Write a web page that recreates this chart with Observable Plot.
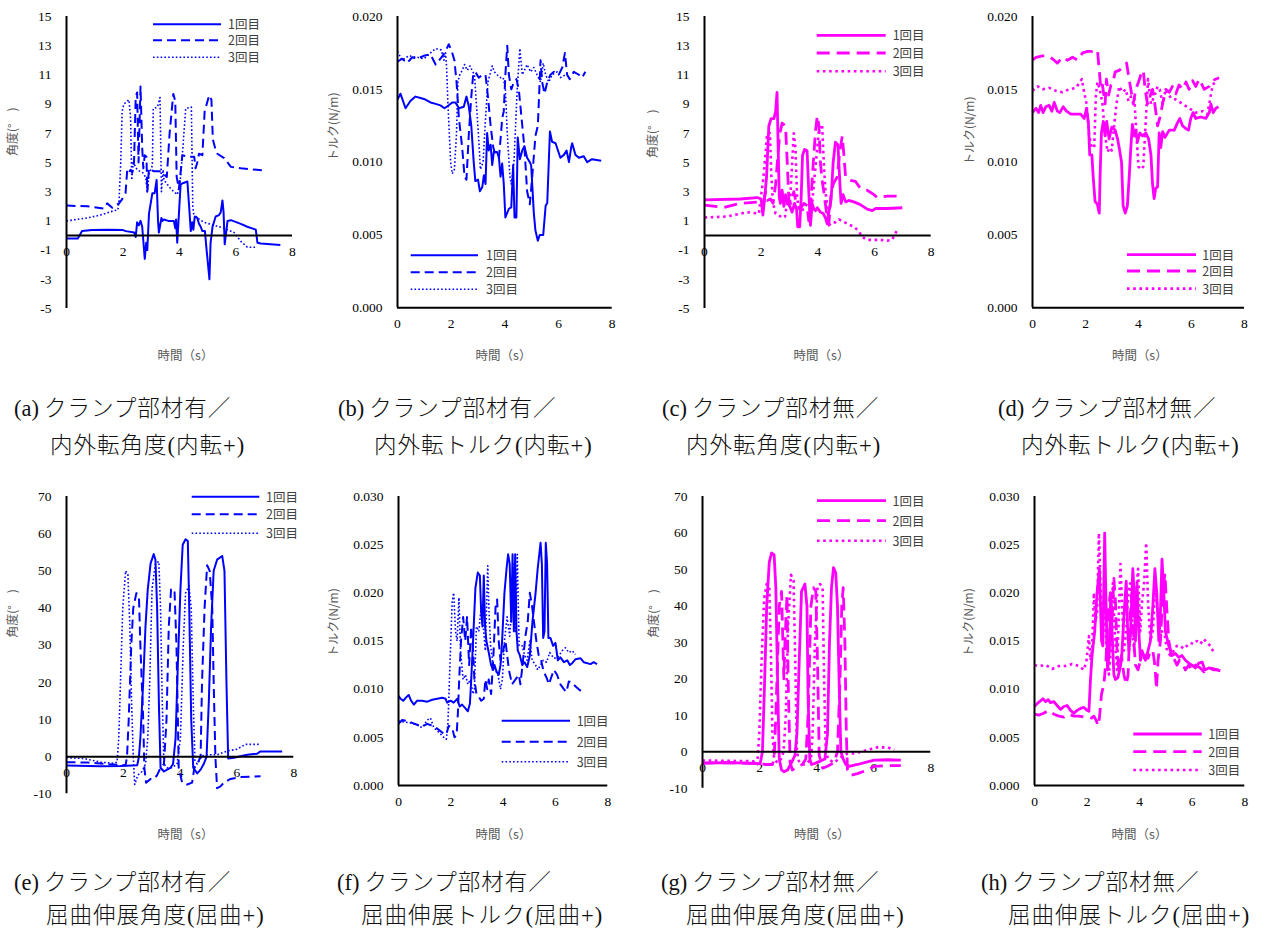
<!DOCTYPE html>
<html><head><meta charset="utf-8">
<script src="https://cdn.jsdelivr.net/npm/d3@7"></script>
<script src="https://cdn.jsdelivr.net/npm/@observablehq/plot@0.6"></script>
<style>
body{margin:0;background:#fff;overflow:hidden;}
#page{position:relative;width:1263px;height:929px;overflow:hidden;background:#fff;}
.panel{position:absolute;}
.cap{position:absolute;font-family:"Liberation Serif","Noto Sans CJK JP",serif;font-weight:300;font-size:22.5px;color:#111;white-space:nowrap;line-height:22px;letter-spacing:1px;}
.cap .tag{margin-right:5px;letter-spacing:0;}
</style></head><body><div id="page"></div>
<script>
// ---------- tick labels / categories ----------
const timeTicks = [0, 2, 4, 6, 8];
const rotAngleTicks = [-5, -3, -1, 1, 3, 5, 7, 9, 11, 13, 15];
const rotTorqueTicks = [0, 0.005, 0.010, 0.015, 0.020];
const flexAngleTicks = [-10, 0, 10, 20, 30, 40, 50, 60, 70];
const flexTorqueTicks = [0, 0.005, 0.010, 0.015, 0.020, 0.025, 0.030];
const trialLabels = ["1回目", "2回目", "3回目"];
const timeLabel = "時間（s）";
const angleLabel = "角度(°\u2003)";
const torqueLabel = "トルク(N/m)";
const captionTags = ["(a)","(b)","(c)","(d)","(e)","(f)","(g)","(h)"];
const captionLine1 = ["クランプ部材有／","クランプ部材有／","クランプ部材無／","クランプ部材無／","クランプ部材有／","クランプ部材有／","クランプ部材無／","クランプ部材無／"];
const captionLine2 = ["内外転角度(内転+)","内外転トルク(内転+)","内外転角度(内転+)","内外転トルク(内転+)","屈曲伸展角度(屈曲+)","屈曲伸展トルク(屈曲+)","屈曲伸展角度(屈曲+)","屈曲伸展トルク(屈曲+)"];

// ---------- series: [time (s), value] ----------
// (a) clamp, rotation angle
const a_run1 = [[0,-0.2],[0.4,-0.2],[0.55,0.3],[0.9,0.37],[1.5,0.4],[2.0,0.37],[2.1,0.3],[2.4,0.2],[2.45,-0.1],[2.5,0.9],[2.56,0.7],[2.62,1.0],[2.68,0.6],[2.77,-1.6],[2.82,-0.5],[2.86,-1.0],[2.92,1.5],[3.04,2.9],[3.12,2.9],[3.19,3.8],[3.24,1.0],[3.27,0.2],[3.36,1.2],[3.4,1.0],[3.45,1.1],[3.6,1.0],[3.8,1.0],[3.85,0.5],[3.88,1.1],[3.92,-0.5],[3.98,1.5],[4.04,3.5],[4.14,3.6],[4.28,3.7],[4.34,2.0],[4.4,0.3],[4.45,0.9],[4.49,0.4],[4.54,1.3],[4.63,1.2],[4.69,0.8],[4.75,0.6],[4.81,0.3],[4.9,0.3],[4.96,-1.0],[5.06,-3.0],[5.1,-0.5],[5.17,0.6],[5.28,1.3],[5.4,1.4],[5.46,1.6],[5.52,2.4],[5.56,1.6],[5.6,-0.6],[5.65,0.2],[5.7,1.0],[5.82,1.05],[6.17,0.8],[6.4,0.6],[6.7,0.4],[6.76,-0.5],[6.88,-0.55],[7.57,-0.65]];
const a_run2 = [[0,2.05],[0.73,2.0],[1.32,1.85],[1.44,2.2],[1.62,1.9],[1.86,2.2],[1.94,2.4],[2.09,2.9],[2.15,4.5],[2.21,4.3],[2.27,4.5],[2.33,4.3],[2.39,5.0],[2.45,9.5],[2.5,9.8],[2.55,5.0],[2.62,10.2],[2.68,6.0],[2.72,4.6],[2.77,5.5],[2.83,5.4],[2.86,3.0],[2.92,4.6],[2.98,4.5],[3.1,4.4],[3.3,4.4],[3.4,4.3],[3.55,4.0],[3.65,7.0],[3.78,9.7],[3.85,9.2],[3.9,4.0],[3.98,3.2],[4.1,5.5],[4.28,5.4],[4.52,5.4],[4.57,4.6],[4.63,5.0],[4.69,5.6],[4.81,5.5],[4.89,8.5],[5.05,9.6],[5.13,9.3],[5.18,6.6],[5.26,6.0],[5.34,5.6],[5.58,5.3],[5.82,4.7],[6.17,4.6],[7.0,4.45]];
const a_run3 = [[0,1.0],[0.73,1.2],[1.2,1.4],[1.68,1.7],[1.82,1.75],[1.86,2.4],[1.92,5.0],[1.97,8.5],[2.03,9.0],[2.21,9.3],[2.27,8.0],[2.31,3.8],[2.36,5.0],[2.42,4.8],[2.5,4.5],[2.7,4.3],[2.8,4.0],[2.86,3.0],[2.92,4.2],[3.04,4.8],[3.07,8.7],[3.22,8.8],[3.31,9.45],[3.36,3.0],[3.42,4.5],[3.45,3.8],[3.57,3.5],[3.69,3.2],[3.8,3.0],[3.92,2.8],[4.02,3.6],[4.1,5.5],[4.22,8.7],[4.42,8.8],[4.47,2.0],[4.5,1.5],[4.63,1.2],[4.87,0.9],[5.22,0.7],[5.58,0.5],[5.93,0.2],[6.17,-0.4],[6.4,-0.8],[6.7,-0.8]];
// (b) clamp, rotation torque
const b_run1 = [[0,0.0143],[0.11,0.0147],[0.3,0.0137],[0.48,0.0142],[0.67,0.0145],[0.86,0.0144],[1.04,0.0143],[1.23,0.0141],[1.42,0.0140],[1.6,0.0139],[1.75,0.0137],[1.91,0.0139],[2.04,0.0141],[2.16,0.0141],[2.29,0.0137],[2.47,0.0138],[2.57,0.0145],[2.66,0.0138],[2.75,0.0125],[2.84,0.0100],[2.9,0.0087],[3.0,0.0088],[3.07,0.0080],[3.16,0.0083],[3.22,0.0091],[3.28,0.0085],[3.34,0.0120],[3.4,0.0108],[3.47,0.0112],[3.53,0.0098],[3.59,0.0107],[3.71,0.0107],[3.78,0.0103],[3.84,0.0090],[3.9,0.0099],[3.96,0.0085],[4.02,0.0062],[4.15,0.0068],[4.24,0.0069],[4.31,0.0098],[4.36,0.0062],[4.43,0.0062],[4.48,0.0117],[4.56,0.0102],[4.65,0.0108],[4.73,0.0111],[4.83,0.0103],[4.93,0.0100],[4.98,0.0098],[5.08,0.0065],[5.14,0.0053],[5.23,0.0046],[5.3,0.0050],[5.43,0.0050],[5.52,0.0070],[5.58,0.0072],[5.68,0.0121],[5.76,0.0114],[5.89,0.0113],[5.98,0.0108],[6.07,0.0103],[6.2,0.0105],[6.3,0.0108],[6.39,0.0100],[6.47,0.0110],[6.51,0.0113],[6.63,0.0105],[6.76,0.0103],[6.94,0.0104],[7.07,0.0100],[7.25,0.0102],[7.59,0.0101]];
const b_run2 = [[0,0.0169],[0.17,0.0171],[0.36,0.0168],[0.55,0.0172],[0.73,0.0171],[0.98,0.0173],[1.23,0.0174],[1.42,0.0167],[1.6,0.0171],[1.79,0.0176],[1.91,0.0181],[2.04,0.0175],[2.12,0.0170],[2.2,0.0155],[2.29,0.0130],[2.41,0.0110],[2.5,0.0090],[2.57,0.0088],[2.66,0.0120],[2.75,0.0145],[2.82,0.0160],[2.9,0.0162],[3.03,0.0158],[3.16,0.0160],[3.28,0.0160],[3.37,0.0145],[3.47,0.0125],[3.57,0.0110],[3.65,0.0105],[3.78,0.0103],[3.86,0.0120],[3.9,0.0130],[3.96,0.0135],[4.02,0.0160],[4.09,0.0180],[4.15,0.0160],[4.24,0.0150],[4.34,0.0155],[4.43,0.0157],[4.52,0.0150],[4.65,0.0125],[4.73,0.0110],[4.83,0.0080],[4.93,0.0071],[5.02,0.0090],[5.14,0.0118],[5.23,0.0125],[5.33,0.0170],[5.39,0.0155],[5.48,0.0147],[5.58,0.0155],[5.7,0.0160],[5.83,0.0162],[6.01,0.0160],[6.14,0.0165],[6.24,0.0175],[6.32,0.0160],[6.42,0.0157],[6.57,0.0162],[6.76,0.0160],[6.88,0.0158],[7.0,0.0162]];
const b_run3 = [[0,0.0176],[0.17,0.0170],[0.42,0.0173],[0.73,0.0172],[0.98,0.0171],[1.23,0.0175],[1.42,0.0178],[1.63,0.0177],[1.73,0.0170],[1.79,0.0175],[1.83,0.0165],[1.88,0.0140],[1.98,0.0100],[2.04,0.0092],[2.12,0.0095],[2.2,0.0120],[2.25,0.0155],[2.32,0.0160],[2.41,0.0163],[2.5,0.0167],[2.6,0.0163],[2.7,0.0166],[2.78,0.0163],[2.87,0.0160],[2.94,0.0140],[3.03,0.0115],[3.09,0.0095],[3.19,0.0100],[3.28,0.0130],[3.37,0.0155],[3.47,0.0162],[3.53,0.0166],[3.61,0.0162],[3.71,0.0160],[3.84,0.0158],[3.94,0.0158],[4.02,0.0150],[4.09,0.0120],[4.19,0.0090],[4.24,0.0085],[4.34,0.0100],[4.46,0.0150],[4.56,0.0178],[4.65,0.0160],[4.73,0.0163],[4.83,0.0167],[4.96,0.0162],[5.08,0.0165],[5.2,0.0160],[5.33,0.0155],[5.43,0.0168],[5.52,0.0160],[5.64,0.0155],[5.76,0.0160],[5.95,0.0162],[6.07,0.0158],[6.26,0.0160]];
// (c) no clamp, rotation angle
const c_run1 = [[0,2.44],[1.27,2.5],[1.86,2.6],[2.0,2.5],[2.06,1.4],[2.12,2.5],[2.19,4.0],[2.27,7.5],[2.35,8.0],[2.45,8.0],[2.51,8.5],[2.56,9.8],[2.6,6.0],[2.64,2.6],[2.68,2.2],[2.74,3.1],[2.8,2.0],[2.86,2.8],[2.92,2.3],[3.01,2.0],[3.09,1.6],[3.18,2.2],[3.25,1.8],[3.29,0.6],[3.36,0.6],[3.41,2.5],[3.46,5.5],[3.53,5.9],[3.62,5.8],[3.68,3.0],[3.74,0.7],[3.8,2.2],[3.86,1.8],[3.92,1.7],[3.98,1.9],[4.09,1.6],[4.19,1.5],[4.27,1.2],[4.33,0.8],[4.39,1.6],[4.47,2.5],[4.54,5.0],[4.62,6.4],[4.71,6.2],[4.78,3.5],[4.82,2.2],[4.89,2.8],[4.98,2.3],[5.09,2.4],[5.27,2.3],[5.51,2.1],[5.74,1.8],[5.92,1.7],[6.04,1.85],[6.45,1.85],[6.98,1.9]];
const c_run2 = [[0,2.08],[0.68,1.92],[1.27,2.2],[1.92,2.3],[2.0,2.2],[2.09,2.3],[2.15,3.0],[2.21,2.4],[2.33,2.5],[2.42,2.2],[2.51,3.5],[2.59,5.5],[2.66,7.0],[2.74,7.7],[2.86,7.5],[2.92,5.0],[2.98,2.3],[3.06,2.2],[3.15,3.0],[3.21,2.5],[3.36,1.8],[3.51,2.2],[3.62,2.0],[3.68,1.0],[3.76,2.5],[3.84,5.0],[3.92,7.2],[3.98,8.2],[4.04,7.5],[4.09,5.0],[4.15,3.8],[4.21,3.0],[4.31,1.5],[4.39,0.8],[4.47,3.0],[4.56,3.6],[4.68,4.0],[4.78,5.8],[4.86,6.8],[4.92,5.5],[4.98,4.0],[5.09,3.8],[5.33,3.7],[5.51,3.2],[5.74,3.1],[5.98,2.8],[6.09,2.6],[6.45,2.7],[6.86,2.7]];
const c_run3 = [[0,1.23],[0.8,1.3],[1.27,1.5],[1.5,1.6],[1.92,1.5],[1.98,2.5],[2.07,3.8],[2.15,5.5],[2.21,7.0],[2.31,7.0],[2.36,4.0],[2.42,2.2],[2.51,1.5],[2.62,1.4],[2.74,1.2],[2.84,1.3],[2.92,2.3],[3.01,2.0],[3.09,4.8],[3.15,7.0],[3.21,6.0],[3.27,2.5],[3.36,1.7],[3.51,1.8],[3.62,2.2],[3.74,2.0],[3.8,2.2],[3.86,3.5],[3.98,6.0],[4.06,7.5],[4.15,7.6],[4.21,5.0],[4.27,3.0],[4.33,2.0],[4.39,0.7],[4.51,0.9],[4.62,0.9],[4.74,1.1],[4.86,1.0],[5.04,0.8],[5.27,0.6],[5.45,0.3],[5.56,-0.1],[5.74,-0.3],[5.98,-0.3],[6.21,-0.3],[6.45,-0.35],[6.62,-0.3],[6.78,0.3]];
// (d) no clamp, rotation torque
const d_run1 = [[0,0.0134],[0.13,0.0137],[0.23,0.0134],[0.31,0.0139],[0.4,0.0134],[0.5,0.0138],[0.63,0.0139],[0.73,0.0135],[0.82,0.0141],[0.94,0.0135],[1.03,0.0134],[1.16,0.0138],[1.28,0.0135],[1.45,0.0133],[1.64,0.0133],[1.82,0.0133],[1.95,0.0130],[2.04,0.0137],[2.11,0.0127],[2.16,0.0105],[2.24,0.0105],[2.29,0.0090],[2.36,0.0073],[2.45,0.0071],[2.52,0.0065],[2.55,0.0090],[2.6,0.0120],[2.67,0.0128],[2.74,0.0118],[2.8,0.0128],[2.89,0.0116],[2.99,0.0124],[3.12,0.0122],[3.21,0.0116],[3.27,0.0110],[3.36,0.0100],[3.42,0.0070],[3.5,0.0065],[3.58,0.0070],[3.65,0.0090],[3.71,0.0110],[3.77,0.0126],[3.84,0.0118],[3.9,0.0122],[3.96,0.0114],[4.05,0.0120],[4.15,0.0118],[4.28,0.0120],[4.38,0.0116],[4.47,0.0105],[4.53,0.0085],[4.59,0.0075],[4.65,0.0082],[4.72,0.0083],[4.78,0.0120],[4.84,0.0110],[4.91,0.0121],[5.0,0.0117],[5.16,0.0122],[5.35,0.0122],[5.47,0.0127],[5.56,0.0130],[5.66,0.0125],[5.79,0.0123],[5.89,0.0122],[5.97,0.0130],[6.06,0.0134],[6.16,0.0130],[6.35,0.0131],[6.54,0.0130],[6.67,0.0134],[6.73,0.0140],[6.82,0.0134],[6.92,0.0137],[7.02,0.0138]];
const d_run2 = [[0,0.0170],[0.13,0.0172],[0.38,0.0173],[0.57,0.0173],[0.75,0.0171],[0.94,0.0168],[1.13,0.0172],[1.32,0.0170],[1.51,0.0172],[1.7,0.0170],[1.89,0.0175],[2.08,0.0176],[2.26,0.0176],[2.45,0.0177],[2.52,0.0163],[2.58,0.0150],[2.64,0.0153],[2.74,0.0140],[2.79,0.0157],[2.87,0.0146],[2.96,0.0153],[3.04,0.0155],[3.12,0.0162],[3.27,0.0163],[3.4,0.0165],[3.55,0.0168],[3.62,0.0160],[3.71,0.0150],[3.8,0.0140],[3.9,0.0150],[4.0,0.0155],[4.09,0.0160],[4.18,0.0163],[4.25,0.0150],[4.34,0.0140],[4.43,0.0145],[4.53,0.0150],[4.63,0.0138],[4.72,0.0125],[4.8,0.0130],[4.91,0.0140],[5.03,0.0150],[5.16,0.0148],[5.28,0.0152],[5.41,0.0147],[5.53,0.0153],[5.66,0.0150],[5.79,0.0155],[5.91,0.0150],[6.04,0.0156],[6.16,0.0152],[6.29,0.0157],[6.48,0.0150],[6.67,0.0152],[6.79,0.0156],[7.04,0.0158]];
const d_run3 = [[0,0.0149],[0.19,0.0152],[0.38,0.0150],[0.63,0.0151],[0.88,0.0149],[1.13,0.0148],[1.38,0.0150],[1.64,0.0151],[1.86,0.0157],[1.95,0.0148],[2.04,0.0140],[2.14,0.0118],[2.24,0.0110],[2.33,0.0110],[2.39,0.0145],[2.45,0.0155],[2.54,0.0150],[2.64,0.0140],[2.73,0.0120],[2.83,0.0107],[2.92,0.0110],[2.99,0.0108],[3.08,0.0125],[3.17,0.0140],[3.27,0.0152],[3.4,0.0148],[3.52,0.0150],[3.62,0.0142],[3.71,0.0145],[3.84,0.0145],[3.92,0.0120],[4.0,0.0097],[4.09,0.0095],[4.18,0.0097],[4.28,0.0130],[4.36,0.0157],[4.47,0.0140],[4.59,0.0145],[4.72,0.0152],[4.8,0.0150],[4.91,0.0140],[5.03,0.0150],[5.22,0.0144],[5.41,0.0143],[5.66,0.0140],[5.91,0.0137],[6.16,0.0134],[6.42,0.0135],[6.6,0.0133],[6.79,0.0152],[6.92,0.0157]];
// (e) clamp, flexion angle
const e_run1 = [[0,-2.4],[1.2,-2.6],[1.9,-2.5],[2.49,-2.3],[2.55,0],[2.6,5],[2.7,20],[2.78,35],[2.86,45],[2.96,52],[3.07,54.5],[3.13,53],[3.19,40],[3.25,15],[3.31,-3],[3.43,-4],[3.54,-3.5],[3.66,-3],[3.75,-2],[3.84,5],[3.92,25],[4.01,45],[4.09,57],[4.19,58.5],[4.27,58],[4.32,40],[4.39,10],[4.46,-3],[4.6,-4.5],[4.72,-3.5],[4.83,-2],[4.93,0],[5.01,15],[5.09,35],[5.18,50],[5.3,53],[5.48,54],[5.56,50],[5.63,20],[5.69,-0.5],[5.89,-0.3],[6.36,0.5],[6.71,0.8],[6.83,1.4],[7.59,1.4]];
const e_run2 = [[0,-1.5],[0.73,-1.6],[1.43,-2.0],[1.9,-2.2],[2.08,-2.3],[2.13,0],[2.19,10],[2.28,30],[2.35,40],[2.46,44],[2.55,43],[2.6,30],[2.7,10],[2.74,-3],[2.8,-7],[2.96,-6],[3.07,-6],[3.19,-5],[3.31,-3],[3.43,-2],[3.52,10],[3.6,35],[3.68,45],[3.8,45],[3.87,30],[3.92,10],[3.95,-3],[4.07,-7],[4.25,-7.5],[4.42,-7],[4.5,-3],[4.6,-2],[4.72,0],[4.77,20],[4.86,40],[4.95,51.5],[5.04,50],[5.13,40],[5.18,20],[5.24,0],[5.3,-8.5],[5.42,-8],[5.54,-7],[5.77,-6],[6.12,-5.5],[6.83,-5.3]];
const e_run3 = [[0,-0.3],[0.61,-0.5],[1.2,-1.5],[1.67,-1.8],[1.78,-1.5],[1.84,5],[1.9,20],[1.98,40],[2.08,50],[2.16,49],[2.23,35],[2.29,15],[2.35,0],[2.4,-7.5],[2.51,-5],[2.66,-4],[2.78,-2],[2.86,5],[2.93,20],[3.01,45],[3.13,52],[3.25,52.5],[3.31,40],[3.37,15],[3.43,-2],[3.54,-3],[3.72,-3],[3.89,-2],[4.01,5],[4.11,30],[4.19,44],[4.31,46],[4.39,40],[4.46,15],[4.52,-1],[4.6,-2],[4.77,0.2],[4.95,0.5],[5.3,0.5],[5.65,1.5],[6.0,2],[6.3,3.3],[6.77,3.3]];
// (f) clamp, flexion torque
const f_run1 = [[0,0.0093],[0.08,0.0090],[0.18,0.0088],[0.31,0.0092],[0.39,0.0094],[0.48,0.0088],[0.59,0.0084],[0.71,0.0088],[0.9,0.0088],[1.1,0.0087],[1.29,0.0089],[1.48,0.0090],[1.67,0.0091],[1.8,0.0090],[1.86,0.0086],[1.99,0.0088],[2.11,0.0086],[2.24,0.0090],[2.34,0.0082],[2.43,0.0084],[2.56,0.0080],[2.65,0.0077],[2.73,0.0085],[2.78,0.0110],[2.85,0.0150],[2.94,0.0205],[3.03,0.0221],[3.11,0.0218],[3.16,0.0180],[3.21,0.0165],[3.26,0.0218],[3.31,0.0165],[3.36,0.0150],[3.45,0.0138],[3.54,0.0125],[3.62,0.0120],[3.67,0.0125],[3.75,0.0118],[3.83,0.0115],[3.9,0.0125],[3.96,0.0150],[4.05,0.0200],[4.13,0.0225],[4.19,0.0240],[4.25,0.0230],[4.31,0.0170],[4.36,0.0240],[4.41,0.0160],[4.46,0.0240],[4.51,0.0160],[4.56,0.0140],[4.64,0.0135],[4.73,0.0125],[4.82,0.0128],[4.92,0.0123],[5.02,0.0135],[5.12,0.0170],[5.24,0.0200],[5.32,0.0225],[5.43,0.0252],[5.48,0.0230],[5.53,0.0153],[5.58,0.0160],[5.63,0.0252],[5.68,0.0230],[5.73,0.0153],[5.81,0.0153],[5.91,0.0145],[6.0,0.0148],[6.09,0.0130],[6.19,0.0133],[6.32,0.0128],[6.45,0.0130],[6.55,0.0125],[6.64,0.0127],[6.76,0.0131],[6.96,0.0132],[7.08,0.0128],[7.34,0.0126],[7.46,0.0128],[7.59,0.0126]];
const f_run2 = [[0,0.0064],[0.14,0.0068],[0.33,0.0067],[0.52,0.0065],[0.71,0.0063],[0.9,0.0061],[1.1,0.0064],[1.29,0.0062],[1.48,0.0059],[1.67,0.0055],[1.83,0.0053],[1.92,0.0062],[2.05,0.0060],[2.14,0.0050],[2.22,0.0052],[2.27,0.0075],[2.32,0.0110],[2.39,0.0150],[2.47,0.0175],[2.55,0.0150],[2.62,0.0175],[2.7,0.0125],[2.78,0.0165],[2.85,0.0140],[2.9,0.0110],[2.98,0.0095],[3.07,0.0092],[3.16,0.0088],[3.26,0.0090],[3.32,0.0110],[3.39,0.0100],[3.45,0.0110],[3.54,0.0095],[3.62,0.0130],[3.71,0.0185],[3.77,0.0193],[3.83,0.0150],[3.9,0.0130],[4.0,0.0140],[4.09,0.0150],[4.22,0.0120],[4.34,0.0105],[4.47,0.0110],[4.6,0.0115],[4.66,0.0105],[4.76,0.0130],[4.85,0.0155],[4.94,0.0170],[5.02,0.0200],[5.11,0.0185],[5.2,0.0165],[5.27,0.0150],[5.36,0.0135],[5.45,0.0130],[5.55,0.0118],[5.66,0.0112],[5.75,0.0105],[5.81,0.0110],[5.94,0.0120],[6.06,0.0115],[6.19,0.0105],[6.32,0.0100],[6.42,0.0097],[6.51,0.0108],[6.64,0.0107],[6.76,0.0103],[6.89,0.0100],[6.98,0.0098]];
const f_run3 = [[0,0.0067],[0.2,0.0066],[0.46,0.0065],[0.71,0.0063],[0.9,0.0060],[1.1,0.0068],[1.22,0.0070],[1.35,0.0060],[1.55,0.0055],[1.73,0.0050],[1.83,0.0048],[1.89,0.0065],[1.96,0.0120],[2.05,0.0190],[2.11,0.0200],[2.18,0.0160],[2.24,0.0150],[2.31,0.0195],[2.37,0.0140],[2.47,0.0110],[2.56,0.0115],[2.65,0.0105],[2.75,0.0110],[2.85,0.0095],[2.9,0.0100],[2.98,0.0165],[3.07,0.0160],[3.16,0.0185],[3.24,0.0165],[3.32,0.0140],[3.41,0.0228],[3.46,0.0180],[3.52,0.0145],[3.62,0.0125],[3.71,0.0120],[3.8,0.0115],[3.9,0.0100],[3.97,0.0110],[4.05,0.0150],[4.15,0.0175],[4.25,0.0155],[4.34,0.0190],[4.41,0.0230],[4.48,0.0160],[4.54,0.0240],[4.61,0.0145],[4.73,0.0145],[4.82,0.0135],[4.92,0.0130],[5.02,0.0150],[5.11,0.0130],[5.24,0.0125],[5.32,0.0120],[5.43,0.0125],[5.53,0.0130],[5.66,0.0128],[5.78,0.0138],[5.94,0.0132],[6.09,0.0133],[6.26,0.0140],[6.38,0.0143],[6.51,0.0138],[6.64,0.0140],[6.76,0.0136]];
// (g) no clamp, flexion angle
const g_run1 = [[0,-3.1],[0.88,-3.0],[1.81,-3.2],[2.02,-3.3],[2.1,0],[2.18,20],[2.25,40],[2.34,52],[2.42,54.5],[2.51,54],[2.57,45],[2.63,20],[2.69,-2],[2.77,-5],[2.86,-5.5],[2.98,-5],[3.12,-3],[3.24,-1],[3.31,5],[3.39,25],[3.47,44],[3.59,46],[3.66,40],[3.7,15],[3.76,-2],[3.82,-3.5],[3.94,-3.2],[4.15,-2.5],[4.29,-2],[4.38,5],[4.45,30],[4.52,45],[4.59,50.5],[4.67,49],[4.73,40],[4.8,15],[4.85,0],[4.93,-2],[5.02,-3.5],[5.14,-4],[5.43,-3.5],[5.78,-2.8],[6.02,-2.3],[6.48,-2.2],[6.95,-2.3]];
const g_run2 = [[0,-3.1],[0.88,-3.0],[1.81,-3.2],[2.22,-3.5],[2.45,-3.5],[2.51,-2],[2.57,10],[2.69,40],[2.77,44],[2.85,20],[2.89,30],[2.96,43],[3.0,20],[3.07,-3],[3.15,-5],[3.33,-4],[3.5,-3.5],[3.62,-2],[3.7,10],[3.8,40],[3.89,45],[3.97,44],[4.03,25],[4.09,-1],[4.21,-4.5],[4.38,-4],[4.61,-3],[4.73,0],[4.82,20],[4.88,40],[4.93,45],[4.99,30],[5.04,5],[5.08,-5],[5.18,-6.5],[5.43,-6],[5.78,-5],[6.02,-4],[6.48,-3.8],[6.95,-3.8]];
const g_run3 = [[0,-2.4],[0.88,-2.5],[1.81,-2.6],[1.93,-2.0],[1.99,5],[2.07,25],[2.16,42],[2.25,46],[2.34,45],[2.39,30],[2.45,5],[2.51,-2],[2.63,-3],[2.75,-2],[2.84,0],[2.92,10],[3.0,35],[3.1,48.5],[3.19,47],[3.25,25],[3.31,0],[3.39,-3],[3.56,-3.5],[3.68,-3],[3.8,-2],[3.86,5],[3.94,30],[4.03,45],[4.12,46],[4.21,45],[4.26,20],[4.32,0],[4.4,-2],[4.61,-3],[4.85,-1.5],[5.08,-0.5],[5.32,-0.5],[5.55,0],[5.78,0.5],[6.13,1.2],[6.48,1.2],[6.72,0.5]];
// (h) no clamp, flexion torque
const h_run1 = [[0,0.0082],[0.1,0.0085],[0.23,0.0088],[0.32,0.0090],[0.42,0.0087],[0.52,0.0089],[0.61,0.0086],[0.74,0.0087],[0.86,0.0083],[0.99,0.0079],[1.12,0.0082],[1.24,0.0083],[1.37,0.0078],[1.5,0.0075],[1.62,0.0078],[1.75,0.0080],[1.88,0.0081],[2.0,0.0078],[2.07,0.0077],[2.13,0.0110],[2.19,0.0135],[2.29,0.0160],[2.38,0.0200],[2.47,0.0225],[2.55,0.0150],[2.6,0.0145],[2.67,0.0262],[2.72,0.0190],[2.78,0.0120],[2.85,0.0140],[2.9,0.0200],[2.95,0.0160],[3.02,0.0115],[3.08,0.0110],[3.17,0.0112],[3.24,0.0120],[3.31,0.0130],[3.4,0.0175],[3.49,0.0212],[3.54,0.0165],[3.59,0.0140],[3.65,0.0155],[3.74,0.0225],[3.79,0.0200],[3.84,0.0150],[3.9,0.0210],[3.97,0.0160],[4.03,0.0130],[4.09,0.0140],[4.16,0.0135],[4.22,0.0130],[4.32,0.0140],[4.41,0.0150],[4.5,0.0185],[4.58,0.0225],[4.65,0.0200],[4.73,0.0150],[4.79,0.0180],[4.85,0.0235],[4.92,0.0200],[4.98,0.0160],[5.11,0.0145],[5.23,0.0135],[5.36,0.0137],[5.49,0.0133],[5.61,0.0135],[5.74,0.0130],[5.87,0.0127],[5.99,0.0125],[6.12,0.0122],[6.25,0.0127],[6.38,0.0128],[6.48,0.0120],[6.63,0.0122],[6.82,0.0121],[6.95,0.0120],[7.07,0.0119]];
const h_run2 = [[0,0.0074],[0.16,0.0073],[0.35,0.0075],[0.54,0.0078],[0.74,0.0074],[0.93,0.0072],[1.12,0.0071],[1.31,0.0074],[1.5,0.0072],[1.69,0.0072],[1.88,0.0071],[2.07,0.0071],[2.17,0.0070],[2.26,0.0072],[2.34,0.0068],[2.42,0.0062],[2.47,0.0070],[2.55,0.0095],[2.64,0.0105],[2.72,0.0130],[2.8,0.0180],[2.89,0.0200],[2.95,0.0170],[3.02,0.0215],[3.08,0.0190],[3.14,0.0140],[3.21,0.0120],[3.31,0.0135],[3.4,0.0115],[3.49,0.0105],[3.56,0.0115],[3.65,0.0180],[3.71,0.0200],[3.78,0.0150],[3.84,0.0125],[3.94,0.0120],[4.03,0.0130],[4.12,0.0130],[4.22,0.0135],[4.32,0.0132],[4.41,0.0140],[4.5,0.0140],[4.58,0.0125],[4.64,0.0100],[4.7,0.0130],[4.79,0.0150],[4.88,0.0200],[4.96,0.0220],[5.03,0.0185],[5.11,0.0150],[5.21,0.0135],[5.3,0.0132],[5.42,0.0125],[5.51,0.0130],[5.61,0.0128],[5.74,0.0120],[5.87,0.0125],[5.99,0.0120],[6.12,0.0125],[6.31,0.0122],[6.44,0.0118],[6.63,0.0122],[6.82,0.0120],[7.01,0.0120]];
const h_run3 = [[0,0.0125],[0.16,0.0124],[0.42,0.0125],[0.67,0.0121],[0.93,0.0124],[1.18,0.0124],[1.43,0.0126],[1.69,0.0124],[1.88,0.0120],[1.98,0.0130],[2.07,0.0155],[2.13,0.0130],[2.19,0.0140],[2.26,0.0200],[2.32,0.0170],[2.38,0.0180],[2.45,0.0262],[2.52,0.0200],[2.6,0.0175],[2.67,0.0180],[2.76,0.0130],[2.83,0.0115],[2.9,0.0140],[2.98,0.0210],[3.05,0.0160],[3.14,0.0120],[3.21,0.0180],[3.27,0.0230],[3.33,0.0190],[3.4,0.0140],[3.49,0.0160],[3.56,0.0200],[3.64,0.0210],[3.71,0.0170],[3.79,0.0140],[3.87,0.0200],[3.94,0.0225],[4.02,0.0160],[4.09,0.0190],[4.17,0.0210],[4.25,0.0252],[4.32,0.0190],[4.41,0.0150],[4.5,0.0160],[4.6,0.0210],[4.68,0.0180],[4.75,0.0160],[4.85,0.0160],[4.96,0.0155],[5.04,0.0140],[5.17,0.0135],[5.3,0.0140],[5.42,0.0145],[5.55,0.0145],[5.68,0.0142],[5.8,0.0145],[5.93,0.0148],[6.06,0.0147],[6.18,0.0150],[6.31,0.0147],[6.44,0.0152],[6.57,0.0148],[6.69,0.0145],[6.82,0.0138]];

// ---------- styles ----------
const BLUE = "#0000ff", PINK = "#ff00ff";
const blueStyles = [{w: 2, dash: null}, {w: 2, dash: "9,5"}, {w: 1.6, dash: "1.6,2.2"}];
const pinkStyles = [{w: 2.8, dash: null}, {w: 2.8, dash: "13,7"}, {w: 2.6, dash: "2.6,3.6"}];
const intFmt = d => String(d);
const torqueFmt = d3.format(".3f");

// ---------- panel layout (page pixel positions of frames, labels, legends) ----------
const panels = [
  {fx0:66, fx1:292, fy0:15.7, fy1:307.7, dom:[-5,15], ticks:rotAngleTicks, fmt:intFmt, yl:angleLabel, ylx:13, yly:131, xlx:185, xly:355, series:[a_run1,a_run2,a_run3], color:BLUE, st:blueStyles, lx0:153, lx1:221, ltx:228, ly:[24,40,57]},
  {fx0:397, fx1:611.7, fy0:15.7, fy1:307, dom:[0,0.02], ticks:rotTorqueTicks, fmt:torqueFmt, yl:torqueLabel, ylx:334, yly:126, xlx:503, xly:355, series:[b_run1,b_run2,b_run3], color:BLUE, st:blueStyles, lx0:410.7, lx1:478, ltx:486, ly:[255,272,289]},
  {fx0:704, fx1:930.7, fy0:15.7, fy1:307.7, dom:[-5,15], ticks:rotAngleTicks, fmt:intFmt, yl:angleLabel, ylx:653, yly:133, xlx:821, xly:355, series:[c_run1,c_run2,c_run3], color:PINK, st:pinkStyles, lx0:816.7, lx1:885.7, ltx:892.7, ly:[35,52.7,71]},
  {fx0:1031.7, fx1:1243.7, fy0:15.7, fy1:307, dom:[0,0.02], ticks:rotTorqueTicks, fmt:torqueFmt, yl:torqueLabel, ylx:969, yly:130, xlx:1139, xly:355, series:[d_run1,d_run2,d_run3], color:PINK, st:pinkStyles, lx0:1126.7, lx1:1195.7, ltx:1202, ly:[254.3,270.7,288.3]},
  {fx0:66, fx1:293.3, fy0:496, fy1:793.3, dom:[-10,70], ticks:flexAngleTicks, fmt:intFmt, yl:angleLabel, ylx:13, yly:613, xlx:185, xly:835, series:[e_run1,e_run2,e_run3], color:BLUE, st:blueStyles, lx0:191.7, lx1:259.3, ltx:266, ly:[496.7,514.3,533.3]},
  {fx0:398, fx1:607.3, fy0:496, fy1:785, dom:[0,0.03], ticks:flexTorqueTicks, fmt:torqueFmt, yl:torqueLabel, ylx:334, yly:622, xlx:503, xly:835, series:[f_run1,f_run2,f_run3], color:BLUE, st:blueStyles, lx0:501.7, lx1:570, ltx:576.7, ly:[720.7,741.7,761.7]},
  {fx0:701.7, fx1:930, fy0:496, fy1:787.7, dom:[-10,70], ticks:flexAngleTicks, fmt:intFmt, yl:angleLabel, ylx:653, yly:613, xlx:821, xly:835, series:[g_run1,g_run2,g_run3], color:PINK, st:pinkStyles, lx0:816.7, lx1:885.7, ltx:892.3, ly:[500.7,520.7,540.7]},
  {fx0:1034, fx1:1244.3, fy0:496, fy1:785, dom:[0,0.03], ticks:flexTorqueTicks, fmt:torqueFmt, yl:torqueLabel, ylx:969, yly:622, xlx:1139, xly:835, series:[h_run1,h_run2,h_run3], color:PINK, st:pinkStyles, lx0:1133.3, lx1:1201.7, ltx:1208.3, ly:[734,751.7,770]}
];
const captionPos = [
  {x1:14, x2:50, y1:409, y2:446}, {x1:338, x2:374, y1:409, y2:446},
  {x1:662, x2:686, y1:409, y2:446}, {x1:998, x2:1021, y1:409, y2:446},
  {x1:14, x2:46, y1:883, y2:916}, {x1:337, x2:361, y1:883, y2:916},
  {x1:661, x2:686, y1:883, y2:916}, {x1:981, x2:1008, y1:883, y2:916}
];

const page = document.getElementById("page");
const SANS = "Noto Sans CJK JP";
const SERIF = "'Liberation Serif', 'Times New Roman', serif";

panels.forEach((p) => {
  const mL = 75, mR = 22, mT = 14;
  const mB = p.xly - p.fy1 + 16;
  const fw = p.fx1 - p.fx0, fh = p.fy1 - p.fy0;
  const sl = p.fx0 - mL, st = p.fy0 - mT;
  const lines = p.series.map((s, i) => Plot.line(s, {
    x: d => d[0], y: d => d[1], stroke: p.color, strokeWidth: p.st[i].w,
    strokeDasharray: p.st[i].dash, strokeLinejoin: "round", strokeLinecap: "butt"
  }));
  const chart = Plot.plot({
    width: fw + mL + mR, height: fh + mT + mB,
    marginLeft: mL, marginRight: mR, marginTop: mT, marginBottom: mB,
    x: {domain: [0, 8], axis: null},
    y: {domain: p.dom},
    style: {background: "transparent", overflow: "visible", fontFamily: SERIF, fontSize: "13.5px", color: "#000"},
    marks: [
      Plot.axisY(p.ticks, {tickSize: 0, tickPadding: 15, tickFormat: p.fmt, label: null, fontSize: 13.5, fontFamily: SERIF, fill: "#000"}),
      Plot.text(timeTicks, {x: d => d, y: 0, dy: 16, text: d => String(d), fontSize: 13.5, fill: "#000", fontFamily: SERIF}),
      ...lines,
      Plot.ruleY([0], {stroke: "#000", strokeWidth: 2}),
      Plot.ruleX([0], {stroke: "#000", strokeWidth: 2}),
      Plot.text([timeLabel], {frameAnchor: "top-left", dx: p.xlx - p.fx0, dy: p.xly - p.fy0, text: d => d,
        fontFamily: SANS, fontSize: 12.5, fill: "#595959", textAnchor: "middle", lineAnchor: "middle"}),
      Plot.text([p.yl], {frameAnchor: "top-left", dx: p.ylx - p.fx0, dy: p.yly - p.fy0, text: d => d, rotate: -90,
        fontFamily: SANS, fontSize: 12, fill: "#595959", textAnchor: "middle", lineAnchor: "middle"})
    ]
  });
  chart.classList.add("panel");
  chart.style.left = sl + "px";
  chart.style.top = st + "px";
  // legend (inside the frame)
  const g = d3.select(chart).append("g").attr("text-anchor", "start");
  trialLabels.forEach((lab, i) => {
    g.append("line")
      .attr("x1", p.lx0 - sl).attr("x2", p.lx1 - sl)
      .attr("y1", p.ly[i] - st).attr("y2", p.ly[i] - st)
      .attr("stroke", p.color).attr("stroke-width", p.st[i].w)
      .attr("stroke-dasharray", p.st[i].dash);
    g.append("text")
      .attr("x", p.ltx - sl).attr("y", p.ly[i] - st)
      .attr("text-anchor", "start")
      .attr("dominant-baseline", "central")
      .attr("font-family", SANS).attr("font-size", 12.5).attr("fill", "#404040")
      .text(lab);
  });
  page.appendChild(chart);
});

captionPos.forEach((c, i) => {
  const d1 = document.createElement("div");
  d1.className = "cap";
  const tag = document.createElement("span");
  tag.className = "tag"; tag.textContent = captionTags[i];
  d1.appendChild(tag);
  d1.appendChild(document.createTextNode(captionLine1[i]));
  d1.style.left = c.x1 + "px"; d1.style.top = (c.y1 - 11) + "px";
  const d2 = document.createElement("div");
  d2.className = "cap"; d2.textContent = captionLine2[i];
  d2.style.left = c.x2 + "px"; d2.style.top = (c.y2 - 11) + "px";
  page.appendChild(d1); page.appendChild(d2);
});
</script>
</body></html>
